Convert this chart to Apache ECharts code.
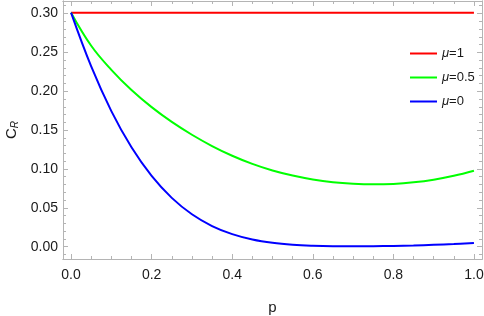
<!DOCTYPE html>
<html>
<head>
<meta charset="utf-8">
<script src="https://cdn.jsdelivr.net/npm/echarts@6/dist/echarts.min.js"></script>
<style>
html, body { margin: 0; padding: 0; background: #fff; }
#main { width: 484px; height: 316px; }
</style>
</head>
<body>
<div id="main"></div>
<script>
// p 取值
var pValues = [0, 0.05, 0.1, 0.15, 0.2, 0.25, 0.3, 0.35, 0.4, 0.45, 0.5,
	0.55, 0.6, 0.65, 0.7, 0.75, 0.8, 0.85, 0.9, 0.95, 1.0];
// μ=1
var redValues = [0.301, 0.301, 0.301, 0.301, 0.301, 0.301, 0.301, 0.301, 0.301, 0.301, 0.301,
	0.301, 0.301, 0.301, 0.301, 0.301, 0.301, 0.301, 0.301, 0.301, 0.301];
// μ=0.5
var greenValues = [0.301, 0.2585, 0.2275, 0.2015, 0.1795, 0.1605, 0.144, 0.1295, 0.117, 0.1065, 0.098,
	0.0915, 0.0865, 0.083, 0.081, 0.0802, 0.0808, 0.0828, 0.0862, 0.0912, 0.0977];
// μ=0
var blueValues = [0.301, 0.2318, 0.1744, 0.1278, 0.091, 0.0628, 0.0417, 0.0266, 0.0162, 0.0093, 0.005,
	0.0025, 0.0012, 0.0006, 0.0005, 0.0006, 0.001, 0.0016, 0.0025, 0.0035, 0.0049];

var seriesNames = ['μ=1', 'μ=0.5', 'μ=0'];
var xMajor = [0, 0.2, 0.4, 0.6, 0.8, 1.0];
var xMinor = [0.05, 0.1, 0.15, 0.25, 0.3, 0.35, 0.45, 0.5, 0.55, 0.65, 0.7, 0.75, 0.85, 0.9, 0.95];
var yMajor = [0, 0.05, 0.1, 0.15, 0.2, 0.25, 0.3];
var yMinor = [-0.01, 0.01, 0.02, 0.03, 0.04, 0.06, 0.07, 0.08, 0.09, 0.11, 0.12, 0.13, 0.14,
	0.16, 0.17, 0.18, 0.19, 0.21, 0.22, 0.23, 0.24, 0.26, 0.27, 0.28, 0.29, 0.31];

var FONT = '"Liberation Sans", Arial, sans-serif';
var FRAME = '#b4b4b4';

function pairs(ys){
	var out = [];
	for(var i = 0; i < pValues.length; i++){
		out.push([pValues[i], ys[i]]);
	}
	return out;
}

/**
 * 边框轴（刻度朝内）
 */
function frameAxis(pos, min, max, ticks, len, label, digits, margin){
	return {
		type: 'value',
		position: pos,
		min: min,
		max: max,
		splitLine: { show: false },
		axisLine: { show: true, onZero: false, lineStyle: { color: FRAME, width: 1 } },
		axisTick: { show: true, inside: true, length: len, customValues: ticks,
			lineStyle: { color: FRAME, width: 1 } },
		axisLabel: { show: label, customValues: ticks, color: '#1a1a1a', fontSize: 14,
			fontFamily: FONT, margin: margin,
			formatter: function(v){ return Number(v).toFixed(digits); } }
	};
}

var xMin = -0.02, xMax = 1.02, yMin = -0.0158, yMax = 0.316;

var xAxes = [
	frameAxis('bottom', xMin, xMax, xMajor, 5, true, 1, 9),
	frameAxis('bottom', xMin, xMax, xMinor, 3, false, 1, 9),
	frameAxis('top', xMin, xMax, xMajor, 5, false, 1, 9),
	frameAxis('top', xMin, xMax, xMinor, 3, false, 1, 9)
];
xAxes[0].name = 'p';
xAxes[0].nameLocation = 'middle';
xAxes[0].nameGap = 41;
xAxes[0].nameTextStyle = { color: '#1a1a1a', fontSize: 15, fontFamily: FONT };

var yAxes = [
	frameAxis('left', yMin, yMax, yMajor, 5, true, 2, 5),
	frameAxis('left', yMin, yMax, yMinor, 3, false, 2, 5),
	frameAxis('right', yMin, yMax, yMajor, 5, false, 2, 5),
	frameAxis('right', yMin, yMax, yMinor, 3, false, 2, 5)
];
yAxes[0].name = 'C{sub|R}';
yAxes[0].nameLocation = 'middle';
yAxes[0].nameRotate = 90;
yAxes[0].nameGap = 42;
yAxes[0].nameTextStyle = { color: '#1a1a1a', fontSize: 15, fontFamily: FONT,
	rich: { sub: { fontSize: 10, fontStyle: 'italic', fontFamily: FONT, color: '#1a1a1a',
		verticalAlign: 'bottom', padding: [6, 0, 0, 0] } } };

var myChart = echarts.init(document.getElementById('main'));
var option = {
	animation: false,
	color: ['#ff0000', '#00ff00', '#0000ff'],
	grid: { left: 63, right: 2, top: 1, bottom: 57, containLabel: false, outerBoundsMode: 'none' },
	legend: {
		data: seriesNames,
		orient: 'vertical',
		left: 405,
		top: 42,
		itemWidth: 27,
		itemHeight: 2,
		itemGap: 11,
		icon: 'rect',
		textStyle: { fontSize: 13, fontFamily: FONT, color: '#1a1a1a',
			rich: { i: { fontStyle: 'italic', fontSize: 13, fontFamily: FONT, color: '#1a1a1a' } } },
		formatter: function(n){ return '{i|μ}' + n.slice(1); }
	},
	xAxis: xAxes,
	yAxis: yAxes,
	series: [{
		name: seriesNames[0],
		type: 'line',
		data: pairs(redValues),
		symbol: 'none',
		lineStyle: { width: 2 }
	},
	{
		name: seriesNames[1],
		type: 'line',
		smooth: 0.4,
		data: pairs(greenValues),
		symbol: 'none',
		lineStyle: { width: 2 }
	},
	{
		name: seriesNames[2],
		type: 'line',
		smooth: 0.4,
		data: pairs(blueValues),
		symbol: 'none',
		lineStyle: { width: 2 }
	}]
};
myChart.setOption(option);
</script>
</body>
</html>
